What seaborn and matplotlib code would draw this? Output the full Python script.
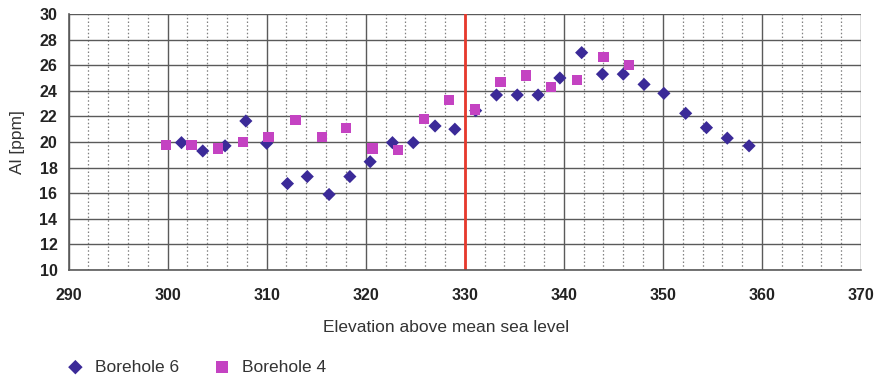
import matplotlib
matplotlib.use("Agg")
import matplotlib.pyplot as plt
import seaborn as sns
import pandas as pd
import numpy as np
from matplotlib.ticker import MultipleLocator

# Data
bh6_elev = [301.4, 303.55, 305.8, 307.9, 310.0, 312.1, 314.1, 316.3, 318.4, 320.45,
            322.7, 324.8, 327.0, 329.0, 331.1, 333.2, 335.3, 337.4, 339.6, 341.8,
            343.9, 346.0, 348.1, 350.1, 352.3, 354.4, 356.5, 358.7]
bh6_al = [19.95, 19.3, 19.7, 21.64, 19.9, 16.75, 17.3, 15.9, 17.3, 18.46,
          19.95, 19.95, 21.25, 21.0, 22.45, 23.67, 23.67, 23.67, 25.0, 26.98,
          25.3, 25.3, 24.5, 23.8, 22.24, 21.12, 20.3, 19.7]
bh4_elev = [299.85, 302.4, 305.1, 307.6, 310.2, 312.9, 315.6, 318.0, 320.7, 323.25,
            325.9, 328.4, 331.0, 333.6, 336.2, 338.7, 341.3, 344.0, 346.6]
bh4_al = [19.77, 19.77, 19.5, 20.0, 20.4, 21.7, 20.4, 21.07, 19.5, 19.4,
          21.8, 23.26, 22.55, 24.66, 25.2, 24.3, 24.84, 26.66, 26.04]
boundary_elev = 330
x_ticks = [290, 300, 310, 320, 330, 340, 350, 360, 370]
y_ticks = [10, 12, 14, 16, 18, 20, 22, 24, 26, 28, 30]

sns.set_style("white")
plt.rcParams['font.family'] = ['Liberation Sans', 'DejaVu Sans']

df6 = pd.DataFrame({"elev": bh6_elev, "al": bh6_al, "series": "Borehole 6"})
df4 = pd.DataFrame({"elev": bh4_elev, "al": bh4_al, "series": "Borehole 4"})

fig = plt.figure(figsize=(8.81, 3.77), dpi=100)
ax = fig.add_axes([0.0778, 0.2838, 0.9773 - 0.0778, 0.9629 - 0.2838])

grid_c = "#5a5a5a"
ax.set_xlim(290, 370)
ax.set_ylim(10, 30)
ax.xaxis.set_major_locator(MultipleLocator(10))
ax.xaxis.set_minor_locator(MultipleLocator(2))
ax.yaxis.set_major_locator(MultipleLocator(2))
ax.grid(True, which="major", axis="both", color=grid_c, linewidth=1.0, linestyle="-")
ax.grid(True, which="minor", axis="x", color="#808080", linewidth=0.9, linestyle=(0, (1.2, 1.8)))
ax.set_axisbelow(True)

ax.axvline(boundary_elev, color="#e8392c", linewidth=2.0, zorder=2)

sns.scatterplot(data=df6, x="elev", y="al", marker="D", s=45, color="#3b2a98",
                edgecolor="none", ax=ax, label="Borehole 6", zorder=3)
sns.scatterplot(data=df4, x="elev", y="al", marker="s", s=55, color="#c443c2",
                edgecolor="none", ax=ax, label="Borehole 4", zorder=3)

for side in ["top", "right"]:
    ax.spines[side].set_visible(False)
for side in ["left", "bottom"]:
    ax.spines[side].set_color(grid_c)
    ax.spines[side].set_linewidth(1.2)

ax.set_xticks(x_ticks)
ax.set_yticks(y_ticks)
ax.tick_params(axis="both", which="major", direction="out", length=4, width=1,
               color=grid_c, labelsize=11.5, pad=4)
ax.tick_params(axis="x", which="minor", length=0)
for lab in ax.get_xticklabels() + ax.get_yticklabels():
    lab.set_fontweight("bold")
    lab.set_color("#222222")
ax.tick_params(axis="x", pad=9)

ax.set_xlabel("Elevation above mean sea level", fontsize=12.5, color="#333333")
ax.xaxis.set_label_coords(0.476, -0.195)
ax.set_ylabel("Al [ppm]", fontsize=12.5, color="#333333")
ax.yaxis.set_label_coords(-0.055, 0.5)

leg = ax.legend(loc="lower left", bbox_to_anchor=(-0.033, -0.47), ncol=2, frameon=False,
                fontsize=12.5, handletextpad=0.15, columnspacing=1.45, markerscale=1.1)
for t in leg.get_texts():
    t.set_color("#333333")

fig.savefig("out.png", dpi=100)
